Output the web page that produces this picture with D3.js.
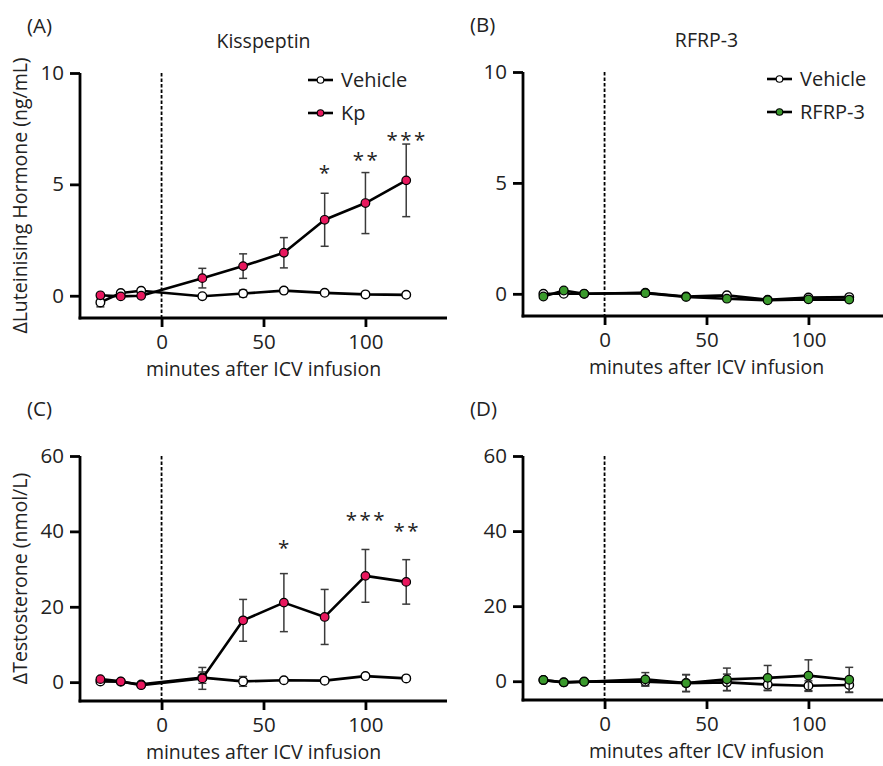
<!DOCTYPE html>
<html>
<head>
<meta charset="utf-8">
<script src="https://cdn.jsdelivr.net/npm/d3@7"></script>
<style>
  html, body { margin: 0; padding: 0; background: #fff; }
  svg { display: block; }
  text { font-family: "Open Sans", "Noto Sans", sans-serif; fill: #222; }
</style>
</head>
<body>
<svg id="fig" width="883" height="766"></svg>
<script>
// Sampling times (minutes relative to ICV infusion)
const minutes = [-30, -20, -10, 20, 40, 60, 80, 100, 120];

// (A) LH, kisspeptin experiment
const lhKpVehicle    = [-0.30, 0.12, 0.22, -0.02, 0.10, 0.23, 0.13, 0.06, 0.04];
const lhKpVehicleSem = [0.20, 0.05, 0.05, 0.05, 0.15, 0.12, 0.05, 0.05, 0.05];
const lhKp           = [0.02, -0.03, 0.00, 0.79, 1.33, 1.93, 3.41, 4.16, 5.18];
const lhKpSem        = [0.05, 0.05, 0.05, 0.44, 0.55, 0.68, 1.19, 1.37, 1.63];

// (B) LH, RFRP-3 experiment
const lhRfVehicle    = [0.00, 0.00, 0.00, 0.05, -0.12, -0.07, -0.27, -0.17, -0.15];
const lhRfVehicleSem = [0.05, 0.05, 0.05, 0.05, 0.05, 0.05, 0.05, 0.05, 0.05];
const lhRfrp         = [-0.12, 0.15, 0.00, 0.03, -0.14, -0.22, -0.29, -0.25, -0.26];
const lhRfrpSem      = [0.05, 0.05, 0.05, 0.05, 0.05, 0.05, 0.05, 0.05, 0.05];

// (C) Testosterone, kisspeptin experiment
const tKpVehicle    = [0.2, 0.1, -0.6, 1.2, 0.2, 0.5, 0.4, 1.6, 1.0];
const tKpVehicleSem = [0.3, 0.3, 0.3, 1.5, 1.3, 0.4, 0.4, 0.4, 0.4];
const tKp           = [0.8, 0.2, -0.8, 1.0, 16.4, 21.1, 17.3, 28.2, 26.6];
const tKpSem        = [0.4, 0.3, 0.3, 2.9, 5.55, 7.7, 7.3, 7.0, 5.9];

// (D) Testosterone, RFRP-3 experiment
const tRfVehicle    = [0.3, -0.3, -0.1, -0.1, -0.5, -0.3, -0.9, -1.2, -1.0];
const tRfVehicleSem = [0.2, 0.2, 0.2, 1.1, 2.2, 2.2, 1.6, 1.3, 2.0];
const tRfrp         = [0.35, -0.3, -0.15, 0.5, -0.5, 0.5, 0.9, 1.5, 0.4];
const tRfrpSem      = [0.3, 0.3, 0.3, 1.8, 2.3, 3.0, 3.3, 4.2, 3.3];

// Significance marks: time, label, height (data units)
const lhStarTimes  = [80, 100, 120];
const lhStarLabels = ["*", "**", "***"];
const lhStarLevels = [5.72, 6.32, 7.22];
const tStarTimes   = [60, 100, 120];
const tStarLabels  = ["*", "***", "**"];
const tStarLevels  = [36.9, 44.4, 41.4];

// Axis ticks
const xTicks  = [0, 50, 100];
const lhTicks = [0, 5, 10];
const tTicks  = [0, 20, 40, 60];

const pink = "#e8185e";
const green = "#3a9a2c";
const FONT = 19.5;
const TICK_FONT = 20.5;

const svg = d3.select("#fig");

function panel(cfg) {
  const g = svg.append("g");
  const x = d3.scaleLinear().domain([-40, 140]).range([cfg.left, cfg.left + 367]);
  const y = d3.scaleLinear().domain(cfg.yDomain).range([cfg.bottom, cfg.top]);

  // panel letter and title
  g.append("text").attr("x", cfg.left - 53).attr("y", cfg.top - 40)
    .attr("font-size", 20.5).text(cfg.letter);
  if (cfg.title) {
    g.append("text").attr("x", x(50)).attr("y", cfg.top - 25)
      .attr("text-anchor", "middle").attr("font-size", FONT).text(cfg.title);
  }

  // axes
  const xAxis = g.append("g").attr("transform", `translate(0,${cfg.bottom})`)
    .call(d3.axisBottom(x).tickValues(xTicks).tickSize(9).tickPadding(7).tickFormat(d3.format("d")));
  const yAxis = g.append("g").attr("transform", `translate(${cfg.left},0)`)
    .call(d3.axisLeft(y).tickValues(cfg.yTicks).tickSize(10).tickPadding(6).tickFormat(d3.format("d")));
  [xAxis, yAxis].forEach(a => {
    a.select(".domain").attr("stroke", "#000").attr("stroke-width", 2.8);
    a.selectAll(".tick line").attr("stroke", "#000").attr("stroke-width", 2.8);
    a.selectAll(".tick text").attr("font-size", TICK_FONT).attr("fill", "#222")
      .attr("font-family", "Open Sans, Noto Sans, sans-serif");
  });
  // keep the axis lines square-ended, without the d3 outer ticks
  xAxis.select(".domain").attr("d", `M${cfg.left - 1.4},0H${x(140)}`);
  yAxis.select(".domain").attr("d", `M0,${y(cfg.yDomain[1])}V${cfg.bottom + 1.4}`);

  // axis titles
  g.append("text").attr("x", x(50)).attr("y", cfg.bottom + 58)
    .attr("text-anchor", "middle").attr("font-size", FONT).text("minutes after ICV infusion");
  if (cfg.yTitle) {
    g.append("text")
      .attr("transform", `translate(${cfg.left - 53},${(cfg.top + cfg.bottom) / 2}) rotate(-90)`)
      .attr("text-anchor", "middle").attr("font-size", FONT).text(cfg.yTitle);
  }

  // infusion marker
  g.append("line").attr("x1", x(0)).attr("x2", x(0))
    .attr("y1", y(cfg.yDomain[1])).attr("y2", cfg.bottom)
    .attr("stroke", "#000").attr("stroke-width", 1.8).attr("stroke-dasharray", "3.5,2");

  const line = d3.line().x(d => x(d.t)).y(d => y(d.v));

  function drawSeries(vals, sems, fill, strokeW) {
    const pts = minutes.map((t, i) => ({ t, v: vals[i], s: sems[i] }));
    const s = g.append("g");
    const eb = s.selectAll("g.eb").data(pts).enter().append("g")
      .attr("stroke", "#3a3a3a").attr("stroke-width", 1.5);
    eb.append("line").attr("x1", d => x(d.t)).attr("x2", d => x(d.t))
      .attr("y1", d => y(d.v - d.s)).attr("y2", d => y(d.v + d.s));
    eb.append("line").attr("x1", d => x(d.t) - 4).attr("x2", d => x(d.t) + 4)
      .attr("y1", d => y(d.v + d.s)).attr("y2", d => y(d.v + d.s));
    eb.append("line").attr("x1", d => x(d.t) - 4).attr("x2", d => x(d.t) + 4)
      .attr("y1", d => y(d.v - d.s)).attr("y2", d => y(d.v - d.s));
    s.append("path").datum(pts).attr("d", line)
      .attr("fill", "none").attr("stroke", "#000").attr("stroke-width", 2.6)
      .attr("stroke-linejoin", "round");
    s.selectAll("circle").data(pts).enter().append("circle")
      .attr("cx", d => x(d.t)).attr("cy", d => y(d.v)).attr("r", 4.3)
      .attr("fill", fill).attr("stroke", "#000").attr("stroke-width", strokeW);
  }
  drawSeries(cfg.veh, cfg.vehSem, "#fff", 1.4);
  drawSeries(cfg.trt, cfg.trtSem, cfg.color, 1.2);

  // significance stars
  if (cfg.starTimes) {
    g.selectAll("text.star").data(cfg.starTimes).enter().append("text")
      .attr("class", "star")
      .attr("x", d => x(d) + 1).attr("y", (d, i) => y(cfg.starLevels[i]) + 12)
      .attr("text-anchor", "middle").attr("font-size", 20.5)
      .attr("letter-spacing", 2.5)
      .text((d, i) => cfg.starLabels[i]);
  }

  // legend
  if (cfg.legend) {
    const lg = g.append("g");
    const items = [
      { label: "Vehicle", fill: "#fff" },
      { label: cfg.legend, fill: cfg.color }
    ];
    items.forEach((it, i) => {
      const yy = cfg.top + 7 + i * 33;
      const lx = cfg.legendX;
      lg.append("line").attr("x1", lx).attr("x2", lx + 25).attr("y1", yy).attr("y2", yy)
        .attr("stroke", "#000").attr("stroke-width", 2.6);
      lg.append("circle").attr("cx", lx + 12.5).attr("cy", yy).attr("r", 3.3)
        .attr("fill", it.fill).attr("stroke", "#000").attr("stroke-width", 1.1);
      lg.append("text").attr("x", lx + 33).attr("y", yy).attr("dy", "0.36em")
        .attr("font-size", 20).text(it.label);
    });
  }
}

panel({
  letter: "(A)", title: "Kisspeptin", left: 80, top: 73, bottom: 318,
  yDomain: [-1, 10], yTicks: lhTicks, yTitle: "\u0394Luteinising Hormone (ng/mL)",
  veh: lhKpVehicle, vehSem: lhKpVehicleSem, trt: lhKp, trtSem: lhKpSem, color: pink,
  starTimes: lhStarTimes, starLabels: lhStarLabels, starLevels: lhStarLevels,
  legend: "Kp", legendX: 308
});
panel({
  letter: "(B)", title: "RFRP-3", left: 523, top: 72, bottom: 316,
  yDomain: [-1, 10], yTicks: lhTicks,
  veh: lhRfVehicle, vehSem: lhRfVehicleSem, trt: lhRfrp, trtSem: lhRfrpSem, color: green,
  legend: "RFRP-3", legendX: 767
});
panel({
  letter: "(C)", left: 80, top: 456, bottom: 701,
  yDomain: [-5, 60], yTicks: tTicks, yTitle: "\u0394Testosterone (nmol/L)",
  veh: tKpVehicle, vehSem: tKpVehicleSem, trt: tKp, trtSem: tKpSem, color: pink,
  starTimes: tStarTimes, starLabels: tStarLabels, starLevels: tStarLevels
});
panel({
  letter: "(D)", left: 523, top: 456, bottom: 700,
  yDomain: [-5, 60], yTicks: tTicks,
  veh: tRfVehicle, vehSem: tRfVehicleSem, trt: tRfrp, trtSem: tRfrpSem, color: green
});
</script>
</body>
</html>
